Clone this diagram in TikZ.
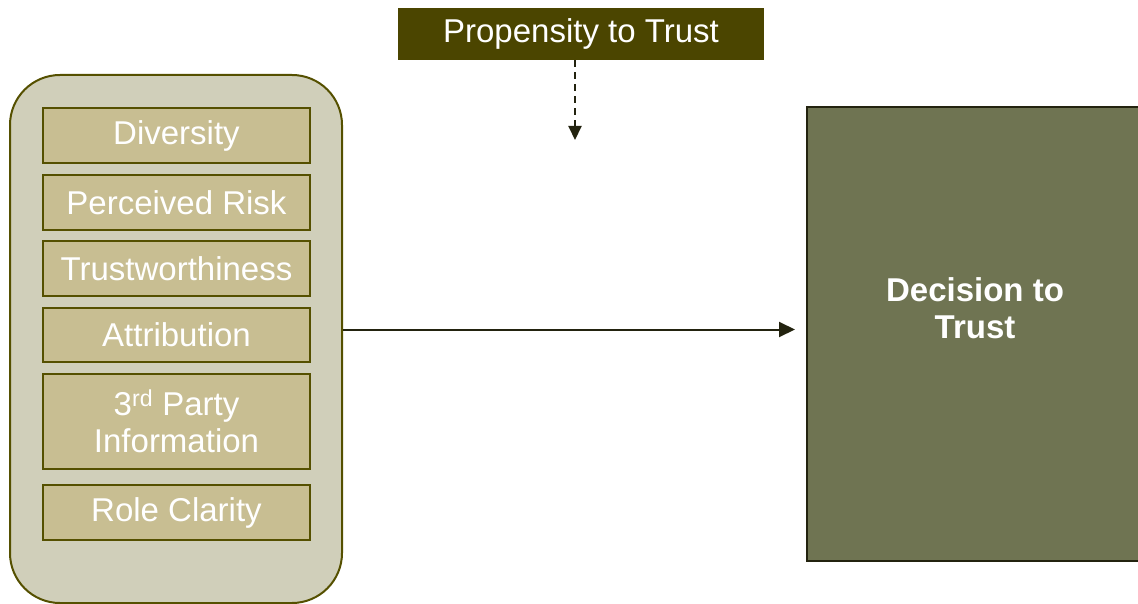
\documentclass[tikz,border=0pt]{standalone}
\usepackage{fontspec}
\setmainfont{Liberation Sans}
\usepackage{tikz}
\usetikzlibrary{arrows.meta}
\definecolor{OliveDark}{RGB}{75,69,0}
\definecolor{OliveLine}{RGB}{85,80,0}
\definecolor{PanelFill}{RGB}{208,207,186}
\definecolor{FactorFill}{RGB}{200,190,146}
\definecolor{DecisionFill}{RGB}{111,116,82}
\definecolor{DecisionLine}{RGB}{35,35,15}

\begin{document}
\begin{tikzpicture}[x=1pt, y=-1pt, font=\fontsize{33}{37}\selectfont,
FactorBox/.style={draw=OliveLine, line width=2pt, fill=FactorFill, text=white, minimum width=267pt, inner sep=0pt, align=center},
Link/.style={-{Triangle[length=16pt, width=15pt]}, line width=2pt, draw=DecisionLine}]
\useasboundingbox (0,0) rectangle (1138,604);
\node [fill=OliveDark, text=white, minimum width=366pt, minimum height=52pt, inner sep=0pt] (prop) at (581,34) {Propensity to Trust};
\node [draw=OliveLine, line width=2pt, fill=PanelFill, rounded corners=50pt, minimum width=332pt, minimum height=528pt] (panel) at (176,339) {};
\foreach \name/\ymid/\boxH/\label in {div/135.5/55/Diversity, risk/202.5/55/Perceived Risk, trust/268.5/55/Trustworthiness, attr/335/54/Attribution, third/421.5/95/{3\textsuperscript{rd} Party\\Information}, role/512.5/55/Role Clarity} {
  \node [FactorBox, minimum height=\boxH pt] (\name) at (176.5, \ymid) {\label};
}
\node [draw=DecisionLine, line width=2pt, fill=DecisionFill, minimum width=336pt, minimum height=454pt, inner sep=0pt] (dec) at (975,334) {};
\node [text=white, font=\fontsize{33}{37}\selectfont\bfseries, align=center] (decText) at (975,308) {Decision to\\Trust};
\coordinate (arrowY) at (0,329.5);
\coordinate (propEnd) at (575,140);
\draw [Link, dash pattern=on 7pt off 5pt, -{Triangle[length=14pt, width=13pt]}] (prop.south -| propEnd) -- (propEnd);
\draw [Link, shorten >=11pt] (panel.east |- arrowY) -- (dec.west |- arrowY);
\end{tikzpicture}
\end{document}
